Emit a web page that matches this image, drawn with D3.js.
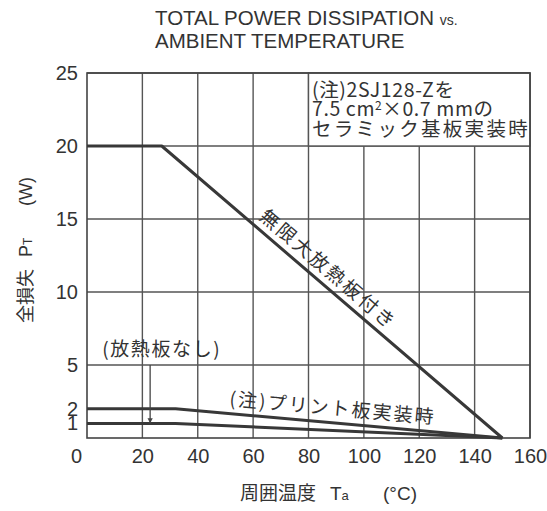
<!DOCTYPE html>
<html>
<head>
<meta charset="utf-8">
<script src="https://cdn.jsdelivr.net/npm/d3@7"></script>
<style>
body { margin:0; background:#fff; }
text { font-family: "Liberation Sans", Arial, "Noto Sans CJK JP", sans-serif; fill:#333; }
.jp { font-family: "Noto Sans CJK JP", sans-serif; }
</style>
</head>
<body>
<div id="chart"></div>
<script>
// curve data (Ta in degC, PT in W)
var infTemp = [0, 27, 150]
var infPower = [20, 20, 0]
var pcbTemp = [0, 32, 150]
var pcbPower = [2, 2, 0]
var noHsTemp = [0, 32, 150]
var noHsPower = [1, 1, 0]

var xTicks = [0, 20, 40, 60, 80, 100, 120, 140, 160]
var yTicks = [1, 2, 5, 10, 15, 20, 25]
var yGrid = [5, 10, 15, 20, 25]

var width = 547, height = 511

var svg = d3.select("#chart").append("svg")
	.attr("width", width)
	.attr("height", height)

var x = d3.scaleLinear().domain([0, 160]).range([87, 530])
var y = d3.scaleLinear().domain([0, 25]).range([438, 73])

var lineCol = "#383838"

// grid
var g = svg.append("g")
g.selectAll("line.vg")
	.data(xTicks.slice(1))
	.enter().append("line")
	.attr("x1", d => x(d)).attr("x2", d => x(d))
	.attr("y1", y(0)).attr("y2", y(25))
	.attr("stroke", "#555").attr("stroke-width", 1.4)
g.selectAll("line.hg")
	.data(yGrid)
	.enter().append("line")
	.attr("x1", x(0)).attr("x2", x(160))
	.attr("y1", d => y(d)).attr("y2", d => y(d))
	.attr("stroke", "#555").attr("stroke-width", 1.4)

// note box (covers grid in the top right)
g.append("rect")
	.attr("x", x(80)).attr("y", y(25))
	.attr("width", x(160) - x(80)).attr("height", y(20) - y(25))
	.attr("fill", "#fff").attr("stroke", "#555").attr("stroke-width", 1.4)

// frame
g.append("rect")
	.attr("x", x(0)).attr("y", y(25))
	.attr("width", x(160) - x(0)).attr("height", y(0) - y(25))
	.attr("fill", "none").attr("stroke", "#444").attr("stroke-width", 1.6)

var note = svg.append("text").attr("class", "jp").attr("font-size", 19.5)
note.append("tspan").attr("x", 312).attr("y", 97).attr("letter-spacing", 0.6).text("(注)2SJ128-Zを")
var l2 = note.append("tspan").attr("x", 312).attr("y", 116).attr("letter-spacing", 0.6)
l2.append("tspan").text("7.5 cm")
l2.append("tspan").attr("font-size", 12).attr("dy", -6).text("2")
l2.append("tspan").attr("dy", 6).text("×0.7 mmの")
note.append("tspan").attr("x", 312).attr("y", 136).attr("letter-spacing", 2.3).text("セラミック基板実装時")

// curves
var line = d3.line().x(d => x(d[0])).y(d => y(d[1]))
var curves = [
	d3.zip(infTemp, infPower),
	d3.zip(pcbTemp, pcbPower),
	d3.zip(noHsTemp, noHsPower)
]
svg.selectAll("path.curve")
	.data(curves)
	.enter().append("path")
	.attr("d", line)
	.attr("fill", "none")
	.attr("stroke", lineCol)
	.attr("stroke-width", 3)
	.attr("stroke-linejoin", "round")

// axis labels
var xAxis = d3.axisBottom(x).tickValues(xTicks).tickSize(0).tickPadding(0).tickFormat(d3.format("d"))
var xa = svg.append("g").attr("transform", "translate(0," + y(0) + ")").call(xAxis)
xa.select(".domain").remove()
xa.selectAll("text").attr("font-size", 20).attr("dy", null).attr("y", 25)
	.attr("fill", "#333")
	.attr("dx", d => d == 0 ? -11 : 0)

var yAxis = d3.axisLeft(y).tickValues(yTicks).tickSize(0).tickPadding(9)
var ya = svg.append("g").attr("transform", "translate(" + x(0) + ",0)").call(yAxis)
ya.select(".domain").remove()
ya.selectAll("text").attr("font-size", 20).attr("fill", "#333")

// title
var t = svg.append("text").attr("font-size", 20.5)
t.append("tspan").attr("x", 155).attr("y", 25).text("TOTAL POWER DISSIPATION ")
t.append("tspan").attr("font-size", 14).text("vs.")
svg.append("text").attr("font-size", 20.5).attr("x", 155).attr("y", 48).text("AMBIENT TEMPERATURE")

// axis titles
var xt = svg.append("text").attr("y", 500).attr("font-size", 19)
xt.append("tspan").attr("class", "jp").attr("x", 240).text("周囲温度")
xt.append("tspan").attr("x", 330).text("T")
xt.append("tspan").attr("font-size", 13).text("a")
xt.append("tspan").attr("x", 383).text("(°C)")

var yt = svg.append("text").attr("font-size", 18)
	.attr("transform", "translate(32,323) rotate(-90)")
yt.append("tspan").attr("class", "jp").attr("x", 0).text("全損失")
yt.append("tspan").attr("x", 66).text("P")
yt.append("tspan").attr("font-size", 12).text("T")
yt.append("tspan").attr("x", 117).text("(W)")

// curve labels, placed along their lines
function alongLabel(temps, powers, t0, off, txt, ls) {
	var a = Math.atan2(y(powers[2]) - y(powers[1]), x(temps[2]) - x(temps[1])) * 180 / Math.PI
	var p0 = powers[1] * (temps[2] - t0) / (temps[2] - temps[1])
	svg.append("text").attr("class", "jp").attr("font-size", 19)
		.attr("transform", "translate(" + x(t0) + "," + y(p0) + ") rotate(" + a + ")")
		.attr("y", -off)
		.attr("letter-spacing", ls)
		.text(txt)
}
alongLabel(infTemp, infPower, 60, 8, "無限大放熱板付き", 2.6)
alongLabel(pcbTemp, pcbPower, 51, 8, "(注)プリント板実装時", 2.1)

svg.append("text").attr("class", "jp").attr("font-size", 19)
	.attr("x", x(5.5)).attr("y", y(5.6))
	.attr("letter-spacing", 1.6)
	.text("(放熱板なし)")

// arrow to 1 W line
svg.append("defs").append("marker")
	.attr("id", "ah").attr("viewBox", "0 0 10 10")
	.attr("refX", 10).attr("refY", 5)
	.attr("markerWidth", 4).attr("markerHeight", 6)
	.attr("orient", "auto")
	.append("path").attr("d", "M0,0L10,5L0,10Z").attr("fill", "#444")
svg.append("line")
	.attr("x1", x(22.8)).attr("x2", x(22.8))
	.attr("y1", y(5)).attr("y2", y(1))
	.attr("stroke", "#444").attr("stroke-width", 1.3)
	.attr("marker-end", "url(#ah)")
</script>
</body>
</html>
